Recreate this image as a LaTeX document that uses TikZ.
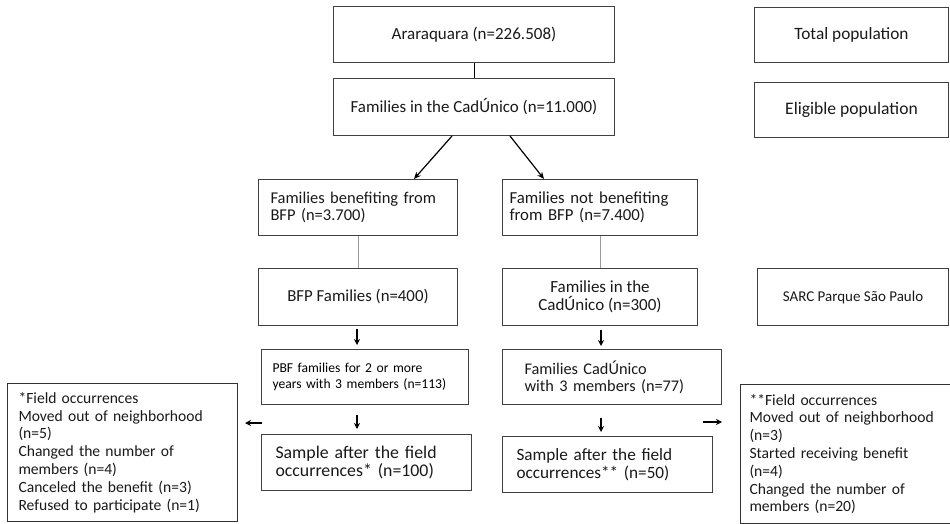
\documentclass[tikz,border=0pt]{standalone}
\usepackage{fontspec}
\setmainfont{Carlito}
\usetikzlibrary{arrows.meta}
\begin{document}
\begin{tikzpicture}[x=1pt,y=-1pt,
  every node/.style={inner sep=0pt, text=black!90},
  boxc/.style={draw=black!75, line width=1pt, anchor=north west, align=center,
    font=\fontsize{17}{18}\selectfont},
  boxl/.style={draw=black!75, line width=1pt, anchor=north west, align=left,
    font=\fontsize{17}{18}\selectfont},
  note/.style={draw=black!80, line width=1pt, anchor=north west, align=left,
    font=\fontsize{15.6}{17.8}\selectfont},
  link/.style={draw=black, line width=1pt},
  glink/.style={draw=black!40, line width=1pt},
  arr/.style={draw=black, line width=1.2pt, -{Stealth[length=7pt,width=6pt]}},
  sarr/.style={draw=black, line width=1.1pt, -{Stealth[length=6pt,width=6pt]}}
]
\useasboundingbox (0,0) rectangle (950,524);

% top column
\node[boxc, minimum width=281pt, minimum height=56pt] (ara) at (333,6) {Araraquara (n=226.508)};
\node[boxc, minimum width=281pt, minimum height=57pt, font=\fontsize{16.9}{18}\selectfont] (cad) at (333,78) {Families in the CadÚnico (n=11.000)};

% right labels
\node[boxc, minimum width=194pt, minimum height=55pt, font=\fontsize{17.3}{18}\selectfont] (tot) at (754,7) {Total population};
\node[boxc, minimum width=194pt, minimum height=55pt, font=\fontsize{17.6}{18}\selectfont] (eli) at (754,82) {Eligible population};
\node[boxc, minimum width=191pt, minimum height=57pt, font=\fontsize{15}{18}\selectfont] (sarc) at (757,268) {SARC Parque São Paulo};

% second row
\node[boxl, minimum width=199pt, minimum height=56pt, text width=183pt, inner xsep=8pt, font=\fontsize{16.5}{17.5}\selectfont] (ben) at (258,179) {\hspace*{4pt}Families benefiting from\\\hspace*{4pt}BFP (n=3.700)};
\node[boxl, minimum width=195pt, minimum height=56pt, text width=181pt, inner xsep=7pt, font=\fontsize{16.8}{17.5}\selectfont] (nben) at (502,179) {Families not benefiting\\from BFP (n=7.400)};

% third row
\node[boxc, minimum width=199pt, minimum height=57pt, font=\fontsize{16.8}{18}\selectfont] (bfp) at (258,268) {BFP Families (n=400)};
\node[boxc, minimum width=195pt, minimum height=57pt] (cad3) at (502,268) {Families in the\\CadÚnico (n=300)};

% fourth row
\node[boxl, minimum width=196pt, minimum height=55pt, text width=185pt, inner xsep=11pt, font=\fontsize{13.6}{16.7}\selectfont, text=black] (pbf) at (261,349) {PBF families for 2 or more\\years with 3 members (n=113)};
\node[boxl, minimum width=196pt, minimum height=55pt, text width=175pt, inner xsep=22pt, font=\fontsize{16.3}{17.3}\selectfont] (fc3) at (502,349) {Families CadÚnico\\with 3 members (n=77)};

% fifth row
\node[boxl, minimum width=196pt, minimum height=56pt, text width=182pt, inner xsep=14pt, font=\fontsize{17.8}{18.3}\selectfont] (samp1) at (261,434) {Sample after the field\\occurrences* (n=100)};
\node[boxl, minimum width=196pt, minimum height=56pt, text width=182pt, inner xsep=14pt, font=\fontsize{17.2}{18.3}\selectfont] (samp2) at (502,436) {Sample after the field\\occurrences** (n=50)};

% notes
\node[note, minimum width=220pt, minimum height=138pt, text width=208pt, inner xsep=11pt] (n1) at (7,383) {*Field occurrences\\Moved out of neighborhood\\(n=5)\\Changed the number of\\members (n=4)\\Canceled the benefit (n=3)\\Refused to participate (n=1)};
\node[note, minimum width=208pt, minimum height=139pt, text width=198pt, inner xsep=9pt] (n2) at (740,384) {**Field occurrences\\Moved out of neighborhood\\(n=3)\\Started receiving benefit\\(n=4)\\Changed the number of\\members (n=20)};

% connectors
\draw[link] (ara.south -| 474,0) -- (cad.north -| 474,0);
\draw[arr] ([xshift=-22pt]cad.south) -- ([xshift=56pt]ben.north);
\draw[arr] ([xshift=36pt]cad.south) -- ([xshift=-56pt]nben.north);
\draw[glink] (ben.south -| 358,0) -- (bfp.north -| 358,0);
\draw[glink] (nben.south -| 600,0) -- (cad3.north -| 600,0);

\coordinate (a1s) at (357,329);
\coordinate (a2s) at (601,330);
\coordinate (a3s) at (357,415);
\coordinate (a4s) at (601,418);
\coordinate (a1e) at (357,345);
\coordinate (a2e) at (601,346);
\coordinate (a3e) at (357,429);
\coordinate (a4e) at (601,432);
\draw[sarr] (a1s) -- (a1e);
\draw[sarr] (a2s) -- (a2e);
\draw[sarr] (a3s) -- (a3e);
\draw[sarr] (a4s) -- (a4e);

\coordinate (la) at (262,423);
\coordinate (lb) at (245,423);
\coordinate (ra) at (703,422);
\coordinate (rb) at (722,422);
\draw[sarr] (la) -- (lb);
\draw[sarr] (ra) -- (rb);
\end{tikzpicture}
\end{document}
